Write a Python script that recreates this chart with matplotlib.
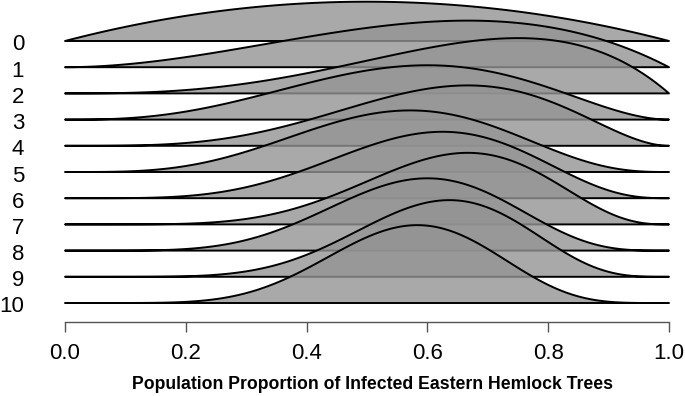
import numpy as np
import matplotlib
matplotlib.use("Agg")
import matplotlib.pyplot as plt
import matplotlib.transforms as mtransforms
from math import lgamma, exp

plt.rcParams['font.family'] = ['Liberation Sans', 'DejaVu Sans']

# posterior after each observation (row 0 = prior)
row_labels = ['0', '1', '2', '3', '4', '5', '6', '7', '8', '9', '10']
shape_a = [2, 3, 4, 4, 5, 5, 6, 7, 7, 8, 8]
shape_b = [2, 2, 2, 3, 3, 4, 4, 4, 5, 5, 6]
x_ticks = [0.0, 0.2, 0.4, 0.6, 0.8, 1.0]
x_tick_labels = ['0.0', '0.2', '0.4', '0.6', '0.8', '1.0']


def beta_pdf(x, a, b):
    c = exp(lgamma(a + b) - lgamma(a) - lgamma(b))
    return c * x ** (a - 1) * (1 - x) ** (b - 1)


fig = plt.figure(figsize=(6.85, 3.96), dpi=100)
ax = fig.add_axes([65 / 685, (396 - 303) / 396, 604 / 685, 301.3 / 396])
ax.set_xlim(0, 1)
ax.set_ylim(0, 11.5)

xs = np.linspace(0, 1, 400)
n = len(row_labels)
for i in range(n):
    off = (n - 1) - i
    ys = off + beta_pdf(xs, shape_a[i], shape_b[i])
    ax.fill(xs, ys, facecolor=(0.58, 0.58, 0.58, 0.8), edgecolor='black',
            lw=1.4, clip_on=False, joinstyle='round')

for s in ['top', 'right', 'left']:
    ax.spines[s].set_visible(False)
ax.spines['bottom'].set_position(('outward', 18.7 * 0.72))
ax.spines['bottom'].set_bounds(0, 1)
ax.spines['bottom'].set_color('#555555')
ax.spines['bottom'].set_linewidth(1)

ax.set_xticks(x_ticks)
ax.set_xticklabels(x_tick_labels)
ax.tick_params(axis='x', length=7.2, width=1, color='#555555', labelsize=16, pad=8)

ax.set_yticks([(n - 1) - i for i in range(n)])
ax.set_yticklabels(row_labels)
ax.tick_params(axis='y', length=0, labelsize=16, pad=29.5)
shift = mtransforms.ScaledTranslation(0, -1.5 / 100, fig.dpi_scale_trans)
for lab in ax.get_yticklabels():
    lab.set_transform(lab.get_transform() + shift)

fig.text(373 / 685, 1 - 384.5 / 396, 'Population Proportion of Infected Eastern Hemlock Trees',
         ha='center', va='center', weight='bold', size=12.7,
         family=['Liberation Sans Narrow', 'Liberation Sans'])

fig.savefig('out.png', dpi=100)
